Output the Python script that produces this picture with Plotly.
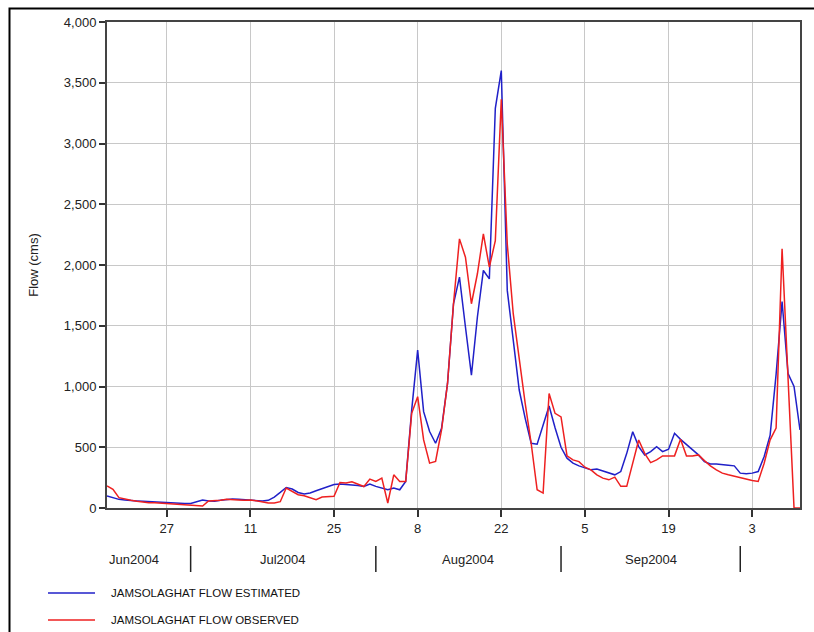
import pandas as pd
import plotly.graph_objects as go

# ---- data (daily flow, cms) ----
est_jun = [99, 85, 71, 66, 60, 58, 55, 52, 49, 49, 44, 41, 38, 38]
est_jul = [38, 49, 66, 58, 55, 63, 71, 74, 71, 68, 68, 63, 57, 63, 90, 128, 169, 156, 128, 115,
           123, 142, 161, 177, 194, 197, 194, 188, 186, 177, 197]
est_aug = [178, 164, 150, 164, 150, 219, 806, 1299, 793, 629, 533, 656, 1025, 1681, 1900, 1490,
           1094, 1572, 1955, 1886, 3290, 3600, 1791, 1381, 971, 738, 533, 525, 680, 840, 660]
est_sep = [500, 410, 369, 347, 328, 314, 320, 306, 292, 273, 300, 450, 628, 505, 437, 464, 505,
           464, 484, 615, 565, 525, 484, 437, 382, 363, 363, 355, 352, 347]
est_oct = [287, 281, 287, 300, 424, 600, 1100, 1700, 1107, 1000, 642]

obs_jun = [181, 153, 85, 71, 63, 55, 49, 44, 44, 41, 36, 33, 30, 30]
obs_jul = [27, 25, 16, 58, 58, 63, 71, 71, 66, 63, 66, 60, 52, 41, 41, 52, 164, 137, 109, 101,
           82, 68, 90, 96, 96, 210, 205, 216, 199, 177, 238]
obs_aug = [219, 246, 41, 273, 219, 219, 779, 916, 560, 369, 383, 642, 1025, 1681, 2215, 2064,
           1681, 1928, 2256, 1982, 2201, 3363, 2173, 1599, 1217, 861, 533, 150, 123, 943, 779]
obs_sep = [750, 430, 396, 382, 336, 314, 273, 246, 232, 254, 178, 178, 369, 560, 450, 374, 396,
           429, 429, 429, 565, 429, 429, 437, 390, 347, 314, 287, 273, 260]
obs_oct = [249, 238, 227, 218, 369, 561, 657, 2133, 1107, 0, 0]

start_date = "2004-06-17"
end_date = "2004-10-11"
series_names = ["JAMSOLAGHAT FLOW ESTIMATED", "JAMSOLAGHAT FLOW OBSERVED"]
series_colors = ["#2020c8", "#ee2020"]
month_labels = ["Jun2004", "Jul2004", "Aug2004", "Sep2004"]
month_starts = ["2004-07-01", "2004-08-01", "2004-09-01", "2004-10-01"]

dates = pd.date_range(start_date, end_date, freq="D")
estimated = est_jun + est_jul + est_aug + est_sep + est_oct
observed = obs_jun + obs_jul + obs_aug + obs_sep + obs_oct

# ---- figure ----
W, H = 814, 632
L, R, T, B = 107, 14, 22, 124
pw, ph = W - L - R, H - T - B


def px_x(px):
    return (px - L) / pw


def px_y(py):
    return (H - B - py) / ph


FONT = "Liberation Sans, Arial, sans-serif"

fig = go.Figure()
for name, vals, col in zip(series_names, [estimated, observed], series_colors):
    fig.add_trace(go.Scatter(x=dates, y=vals, mode="lines", name=name,
                             line=dict(color=col, width=1.5), showlegend=False))

fig.update_layout(
    width=W, height=H,
    margin=dict(l=L, r=R, t=T, b=B),
    paper_bgcolor="white", plot_bgcolor="white",
    font=dict(family=FONT, size=13, color="#222"),
    showlegend=False,
)

fig.update_xaxes(
    type="date", range=[dates[0], dates[-1]],
    tick0="2004-06-27", dtick=14 * 86400000, tickformat="%-d",
    showgrid=True, gridcolor="#c8c8c8", gridwidth=1,
    showline=True, linecolor="#444", linewidth=2, mirror=True,
    ticks="outside", ticklen=7, tickcolor="#333", tickwidth=1.5,
    tickfont=dict(size=13, color="#222"), zeroline=False,
)
fig.update_yaxes(
    range=[0, 4000], dtick=500, tickformat=",d",
    showgrid=True, gridcolor="#c8c8c8", gridwidth=1,
    showline=True, linecolor="#444", linewidth=2, mirror=True,
    ticks="outside", ticklen=6, tickcolor="#333", tickwidth=1.5,
    tickfont=dict(size=13, color="#222"), zeroline=False,
    title=dict(text="Flow (cms)", font=dict(size=13, color="#222"), standoff=22),
)

# month labels row
month_centers = [dates[0], "2004-07-16 12:00", "2004-08-16 12:00", "2004-09-16"]
for i, (lab, xc) in enumerate(zip(month_labels, month_centers)):
    fig.add_annotation(x=xc, y=px_y(559), xref="x", yref="paper", text=lab,
                       showarrow=False, xanchor="left" if i == 0 else "center",
                       yanchor="middle", font=dict(size=13, color="#222"))
for ms in month_starts:
    fig.add_shape(type="line", x0=ms, x1=ms, xref="x", y0=px_y(546), y1=px_y(572),
                  yref="paper", line=dict(color="#222", width=1.5))

# legend (drawn below the chart)
for i, (name, col) in enumerate(zip(series_names, series_colors)):
    ly = 593 + 27 * i
    fig.add_shape(type="line", xref="paper", yref="paper",
                  x0=px_x(48), x1=px_x(95), y0=px_y(ly), y1=px_y(ly),
                  line=dict(color=col, width=1.5))
    fig.add_annotation(x=px_x(109), y=px_y(ly), xref="paper", yref="paper", text=name,
                       showarrow=False, xanchor="left", yanchor="middle",
                       font=dict(size=11.5, color="#111"))

# outer frame of the image
fig.add_shape(type="rect", xref="paper", yref="paper",
              x0=px_x(9.5), x1=px_x(840), y0=px_y(660), y1=px_y(8.5),
              line=dict(color="black", width=2), fillcolor="rgba(0,0,0,0)", layer="below")

fig.write_html("out.html")
